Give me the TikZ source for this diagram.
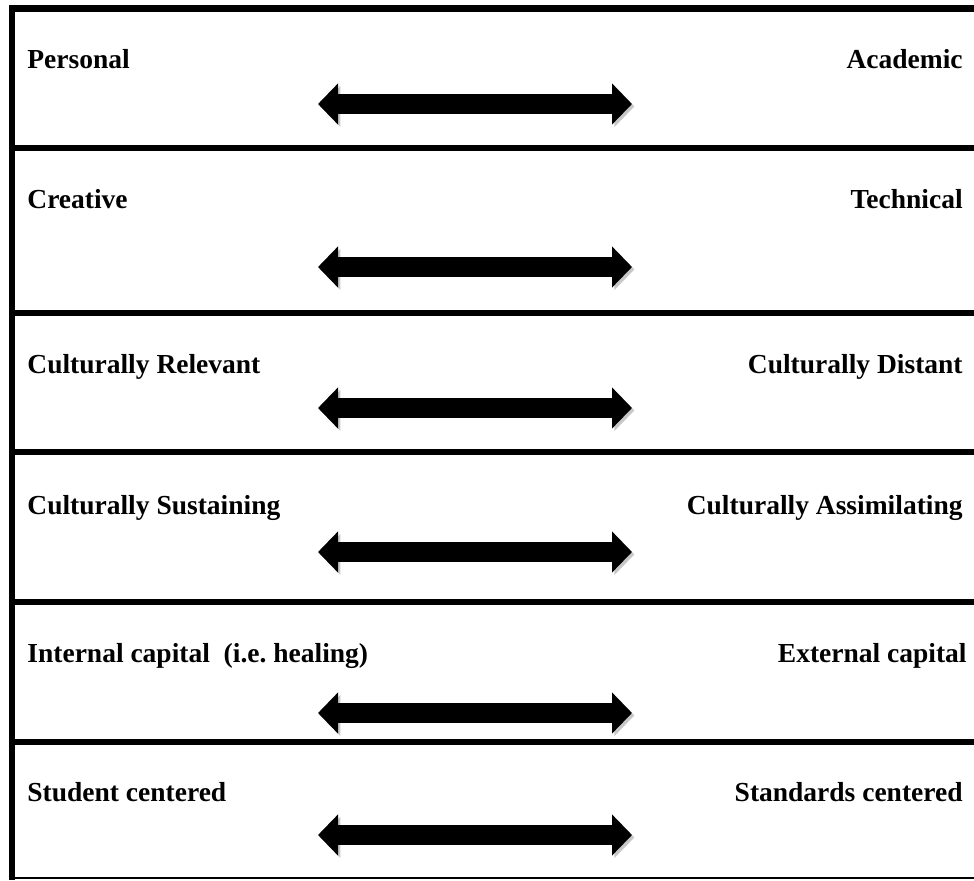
\documentclass[tikz,border=0pt]{standalone}
\usepackage{fontspec}
\setmainfont{Liberation Serif}
\usepackage{tikz}
\usetikzlibrary{arrows.meta}

\begin{document}
\begin{tikzpicture}[x=0.5pt, y=-0.5pt,
  font=\fontsize{13.75}{16}\selectfont\bfseries,
  lbl/.style={inner sep=0pt},
  rule/.style={line width=3pt},
  dblarrow/.style={line width=10pt,
    {Triangle[length=10pt,width=20pt]}-{Triangle[length=10pt,width=20pt]},
    preaction={draw=black!22, transform canvas={xshift=1.2pt, yshift=-1.2pt}}}]
\useasboundingbox (0,0) rectangle (974,880);

% frame and row rules
\draw[line width=3.5pt] (9,8.5) -- (974,8.5);
\draw[rule] (12,5) -- (12,880);
\draw[rule] (9,148) -- (974,148);
\draw[rule] (9,313) -- (974,313);
\draw[rule] (9,452) -- (974,452);
\draw[rule] (9,602) -- (974,602);
\draw[rule] (9,742) -- (974,742);
\draw[line width=1.3pt] (9,878) -- (974,878);

% row 1
\node[lbl, anchor=base west] (personal) at (27,68) {Personal};
\node[lbl, anchor=base east] (academic) at (963,68) {Academic};
\coordinate (a1l) at (318,104);
\coordinate (a1r) at (632,104);
\draw[dblarrow] (a1l) -- (a1r);

% row 2
\node[lbl, anchor=base west] (creative) at (27,208) {Creative};
\node[lbl, anchor=base east] (technical) at (963,208) {Technical};
\coordinate (a2l) at (318,267);
\coordinate (a2r) at (632,267);
\draw[dblarrow] (a2l) -- (a2r);

% row 3
\node[lbl, anchor=base west] (relevant) at (27,373) {Culturally Relevant};
\node[lbl, anchor=base east] (distant) at (963,373) {Culturally Distant};
\coordinate (a3l) at (318,408);
\coordinate (a3r) at (632,408);
\draw[dblarrow] (a3l) -- (a3r);

% row 4
\node[lbl, anchor=base west] (sustaining) at (27,514) {Culturally Sustaining};
\node[lbl, anchor=base east] (assimilating) at (963,514) {Culturally Assimilating};
\coordinate (a4l) at (318,552);
\coordinate (a4r) at (632,552);
\draw[dblarrow] (a4l) -- (a4r);

% row 5
\node[lbl, anchor=base west] (internal) at (27,662) {Internal capital\ \ (i.e.\ healing)};
\node[lbl, anchor=base east] (external) at (967,662) {External capital};
\coordinate (a5l) at (318,713);
\coordinate (a5r) at (632,713);
\draw[dblarrow] (a5l) -- (a5r);

% row 6
\node[lbl, anchor=base west] (student) at (27,801) {Student centered};
\node[lbl, anchor=base east] (standards) at (963,801) {Standards centered};
\coordinate (a6l) at (318,835);
\coordinate (a6r) at (632,835);
\draw[dblarrow] (a6l) -- (a6r);
\end{tikzpicture}
\end{document}
